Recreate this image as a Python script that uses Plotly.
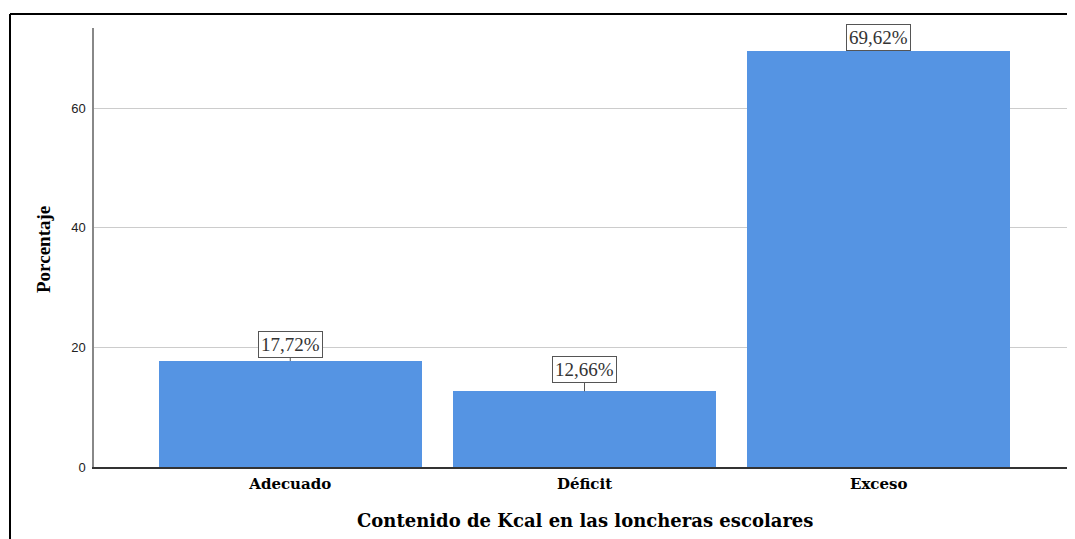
import plotly.graph_objects as go

categories = ["Adecuado", "Déficit", "Exceso"]
percentages = [17.72, 12.66, 69.62]
y_ticks = [0, 20, 40, 60]
label_offsets = [-17, -22, -13]

# page has an 8px body margin; work in page coordinates and shift
OFF = 8
W, H = 1075 - OFF, 539 - OFF
L = 94 - OFF
T = 28 - OFF
B = H - (467 - OFF)
R = 0

xs = list(range(len(categories)))
labels = [f"{v:.2f}%".replace(".", ",") for v in percentages]

fig = go.Figure()
fig.add_trace(go.Bar(
    x=xs, y=percentages, width=0.895,
    marker=dict(color="#5594e3", line=dict(width=0)),
    hoverinfo="skip",
))

for x, v, lab, off in zip(xs, percentages, labels, label_offsets):
    fig.add_annotation(
        x=x, y=v, xref="x", yref="y", text=lab,
        showarrow=True, arrowhead=0, arrowwidth=1, arrowcolor="#555555",
        ax=0, ay=off, standoff=0,
        font=dict(family="Liberation Serif", size=19, color="#333333"),
        bordercolor="#555555", borderwidth=1, borderpad=2, bgcolor="white",
    )

pw = W - L - R
ph = H - T - B
def px_x(p):
    return (p - OFF - L) / pw
def px_y(p):
    return (H - B - (p - OFF)) / ph

# axis titles
fig.add_annotation(
    x=px_x(44), y=px_y(250), xref="paper", yref="paper",
    xanchor="center", yanchor="middle",
    text="<b>Porcentaje</b>", showarrow=False, textangle=-90,
    font=dict(family="Liberation Serif", size=19, color="black"),
)
fig.add_annotation(
    x=px_x(585), y=px_y(520), xref="paper", yref="paper",
    xanchor="center", yanchor="middle",
    text="<b>Contenido de Kcal en las loncheras escolares</b>", showarrow=False,
    font=dict(family="DejaVu Serif", size=18, color="black"),
)

# outer frame (left and top edges)
fig.add_shape(type="line", xref="paper", yref="paper",
              x0=px_x(10), x1=px_x(10), y0=px_y(14), y1=px_y(600),
              line=dict(color="black", width=2))
fig.add_shape(type="line", xref="paper", yref="paper",
              x0=px_x(10), x1=px_x(1200), y0=px_y(14), y1=px_y(14),
              line=dict(color="black", width=2))

fig.update_layout(
    width=W, height=H,
    margin=dict(l=L, r=R, t=T, b=B, pad=0),
    plot_bgcolor="white", paper_bgcolor="white",
    showlegend=False,
    bargap=0,
)
fig.update_xaxes(
    range=[-0.667, 2.667],
    tickvals=xs, ticktext=[f"<b>{c}</b>" for c in categories],
    tickfont=dict(family="DejaVu Serif", size=15, color="black"),
    showgrid=False, zeroline=False,
    showline=True, linecolor="#333333", linewidth=1.5,
    ticks="outside", ticklen=2, tickcolor="white",
)
fig.update_yaxes(
    range=[0, 73.4],
    tickvals=y_ticks,
    tickfont=dict(family="Liberation Sans", size=13, color="#222222"),
    showgrid=True, gridcolor="#cccccc", gridwidth=1,
    zeroline=False,
    showline=True, linecolor="#888888", linewidth=1.5,
    ticks="outside", ticklen=4, tickcolor="white",
)

fig.write_html("out.html")
